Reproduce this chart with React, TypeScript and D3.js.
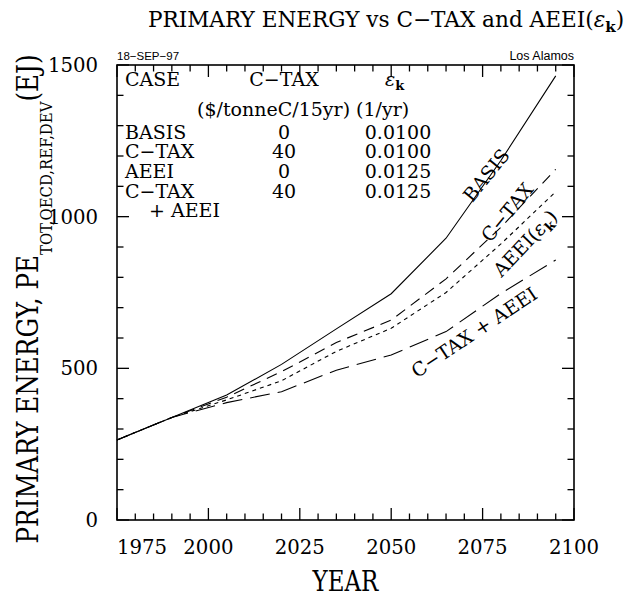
import React from "react";
import * as d3 from "d3";

const YEARS = [1975, 1990, 2005, 2020, 2035, 2050, 2065, 2080, 2095];
const BASIS = [264, 338, 412, 513, 630, 746, 929, 1185, 1464];
const CTAX = [264, 338, 405, 489, 585, 659, 795, 965, 1156];
const AEEI = [264, 338, 396, 459, 556, 632, 750, 910, 1082];
const CTAX_AEEI = [264, 338, 387, 423, 494, 544, 621, 747, 857];

const X_TICKS = [1975, 2000, 2025, 2050, 2075, 2100];
const Y_TICKS = [0, 500, 1000, 1500];

const LEGEND_CASES = ["BASIS", "C\u2212TAX", "AEEI", "C\u2212TAX"];
const LEGEND_TAX = ["0", "40", "0", "40"];
const LEGEND_EPS = ["0.0100", "0.0100", "0.0125", "0.0125"];

const W = 626, H = 598;
const L = 117, R = 574, T = 65, B = 520;
const SERIF = "'DejaVu Serif', serif";
const SANS = "'Liberation Sans', Arial, sans-serif";

export default function App() {
  const x = d3.scaleLinear().domain([1975, 2100]).range([L, R]);
  const y = d3.scaleLinear().domain([0, 1500]).range([B, T]);
  const line = d3.line<number>().x((_, i) => x(YEARS[i])).y((v) => y(v));

  const series = [
    { v: BASIS, dash: "none" },
    { v: CTAX, dash: "11,7" },
    { v: AEEI, dash: "4,4" },
    { v: CTAX_AEEI, dash: "20,8" },
  ];

  const xMinor = d3.range(1975, 2101, 5);
  const yMinor = d3.range(0, 1501, 100);

  const ticks: React.ReactNode[] = [];
  xMinor.forEach((yr) => {
    const major = yr % 25 === 0;
    const len = major ? 12 : 6.5;
    const px = x(yr);
    ticks.push(<line key={"xb" + yr} x1={px} x2={px} y1={B} y2={B - len} />);
    ticks.push(<line key={"xt" + yr} x1={px} x2={px} y1={T} y2={T + len} />);
  });
  yMinor.forEach((v) => {
    const major = v % 500 === 0;
    const len = major ? 12 : 6.5;
    const py = y(v);
    ticks.push(<line key={"yl" + v} x1={L} x2={L + len} y1={py} y2={py} />);
    ticks.push(<line key={"yr" + v} x1={R} x2={R - len} y1={py} y2={py} />);
  });

  const rowY = (i: number) => 138.5 + i * 19.7;

  const labels = [
    { cx: 486, cy: 175, a: -51, content: <tspan>BASIS</tspan> },
    { cx: 507, cy: 212, a: -50.5, content: <tspan>C{"\u2212"}TAX</tspan> },
    {
      cx: 525, cy: 243, a: -46.6,
      content: (
        <>
          <tspan>AEEI(</tspan>
          <tspan fontStyle="italic">{"\u03B5"}</tspan>
          <tspan fontSize={13} dy={4} fontWeight="bold">k</tspan>
          <tspan dy={-4}>)</tspan>
        </>
      ),
    },
    { cx: 474, cy: 332, a: -33.7, content: <tspan>C{"\u2212"}TAX + AEEI</tspan> },
  ];

  return (
    <svg width={W} height={H} style={{ position: "absolute", left: 0, top: 0, background: "#fff" }}>
      <rect x={0} y={0} width={W} height={H} fill="#fff" />
      {/* Title */}
      <text x={386} y={27} textAnchor="middle" fontFamily={SERIF} fontSize={21.6} fill="#000">
        <tspan>PRIMARY ENERGY vs C{"\u2212"}TAX and AEEI(</tspan>
        <tspan fontStyle="italic">{"\u03B5"}</tspan>
        <tspan fontSize={15} dy={5} fontWeight="bold">k</tspan>
        <tspan dy={-5}>)</tspan>
      </text>

      <text x={117} y={60} fontFamily={SANS} fontSize={11.5} fill="#000">18{"\u2212"}SEP{"\u2212"}97</text>
      <text x={574} y={60} textAnchor="end" fontFamily={SANS} fontSize={12.5} fill="#000">Los Alamos</text>

      {/* Frame and ticks */}
      <g stroke="#000" strokeWidth={1.3} fill="none">
        <rect x={L} y={T} width={R - L} height={B - T} strokeWidth={1.6} />
        {ticks}
      </g>

      {/* Series */}
      <g fill="none" stroke="#000" strokeWidth={1.1}>
        {series.map((s, i) => (
          <path key={i} d={line(s.v) || ""} strokeDasharray={s.dash} />
        ))}
      </g>

      {/* Tick labels */}
      <g fontFamily={SERIF} fontSize={19.7} fill="#000">
        {X_TICKS.map((t) => (
          <text key={t} x={x(t)} y={554} textAnchor={t === 1975 ? "start" : "middle"}>
            {t}
          </text>
        ))}
        {Y_TICKS.map((t) => (
          <text key={t} x={98} y={y(t) + 7} textAnchor="end">
            {t}
          </text>
        ))}
      </g>

      {/* Axis titles */}
      <g transform={`translate(${(L + R) / 2}, 591) scale(0.82, 1)`}>
        <text x={0} y={0} textAnchor="middle" fontFamily={SERIF} fontSize={28} fill="#000">YEAR</text>
      </g>
      <g transform={`translate(38, 299) rotate(-90) scale(0.85, 1)`}>
        <text x={0} y={0} textAnchor="middle" fontFamily={SERIF} fontSize={29} fill="#000">
          <tspan>PRIMARY ENERGY, PE</tspan>
          <tspan fontSize={17.5} dy={14}>TOT,OECD,REF,DEV</tspan>
          <tspan dy={-14}>(EJ)</tspan>
        </text>
      </g>

      {/* Legend table */}
      <g fontFamily={SERIF} fontSize={19} fill="#000">
        <text x={125} y={86}>CASE</text>
        <text x={284} y={86} textAnchor="middle">C{"\u2212"}TAX</text>
        <text x={385} y={86}>
          <tspan fontStyle="italic">{"\u03B5"}</tspan>
          <tspan fontSize={13} dy={4} fontWeight="bold">k</tspan>
        </text>
        <text x={197} y={116}>($/tonneC/15yr) (1/yr)</text>
        {LEGEND_CASES.map((c, i) => (
          <text key={"c" + i} x={125} y={rowY(i)}>{c}</text>
        ))}
        <text x={149} y={rowY(4)}>+ AEEI</text>
        {LEGEND_TAX.map((c, i) => (
          <text key={"t" + i} x={284} y={rowY(i)} textAnchor="middle">{c}</text>
        ))}
        {LEGEND_EPS.map((c, i) => (
          <text key={"e" + i} x={398} y={rowY(i)} textAnchor="middle">{c}</text>
        ))}
      </g>

      {/* Line labels */}
      <g fontFamily={SERIF} fontSize={19} fill="#000">
        {labels.map((lb, i) => (
          <text key={i} transform={`translate(${lb.cx},${lb.cy}) rotate(${lb.a})`} y={7} textAnchor="middle">
            {lb.content}
          </text>
        ))}
      </g>
    </svg>
  );
}
